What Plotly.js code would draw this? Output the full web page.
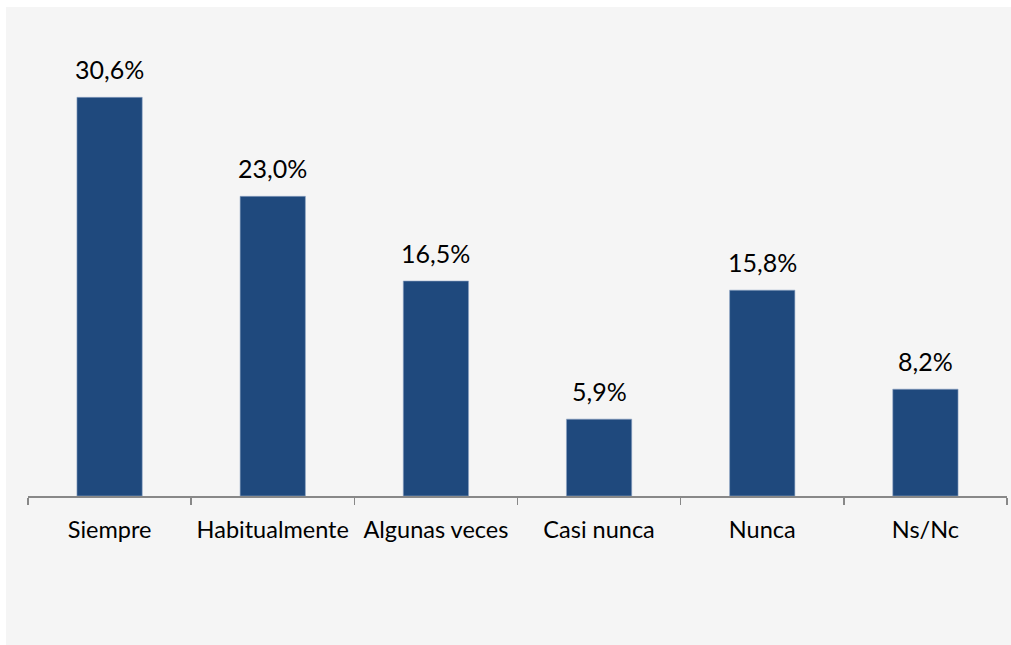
<!DOCTYPE html>
<html>
<head>
<meta charset="utf-8">
<script src="https://cdn.plot.ly/plotly-3.0.1.min.js"></script>
<style>
html,body{margin:0;padding:0;background:#ffffff;width:1011px;height:645px;overflow:hidden;}
#chart{position:absolute;left:6px;top:7px;width:1005px;height:638px;}
</style>
</head>
<body>
<div id="chart"></div>
<script>
const categories = ["Siempre", "Habitualmente", "Algunas veces", "Casi nunca", "Nunca", "Ns/Nc"];
const values = [30.6, 23.0, 16.5, 5.9, 15.8, 8.2];
const labels = ["30,6%", "23,0%", "16,5%", "5,9%", "15,8%", "8,2%"];

const trace = {
  type: "bar",
  x: categories,
  y: values,
  marker: {color: "#1f497d", line: {width: 0.6, color: "#8ea5c4"}},
  width: 0.4,
  hoverinfo: "none"
};

const annotations = categories.map((c, i) => ({
  x: c, y: values[i], xref: "x", yref: "y",
  text: labels[i], showarrow: false,
  yanchor: "bottom", yshift: 11,
  font: {family: "Lato, 'Open Sans', sans-serif", size: 25, color: "#000000"}
}));

const layout = {
  width: 1005, height: 638,
  paper_bgcolor: "#f5f5f5",
  plot_bgcolor: "#f5f5f5",
  margin: {l: 22, r: 4, t: 33, b: 149},
  showlegend: false,
  bargap: 0.6,
  xaxis: {
    type: "category",
    showline: true, linecolor: "#888888", linewidth: 1.5,
    ticks: "outside", tickson: "boundaries", ticklen: 7, tickcolor: "#888888", tickwidth: 1.5,
    ticklabelstandoff: 12, tickangle: 0,
    tickfont: {family: "Lato, 'Open Sans', sans-serif", size: 23.5, color: "#000000"},
    showgrid: false, zeroline: false, fixedrange: true
  },
  yaxis: {
    range: [0, 35], visible: false, showgrid: false, zeroline: false, fixedrange: true
  },
  annotations: annotations
};

Plotly.newPlot("chart", [trace], layout, {staticPlot: true, displayModeBar: false});
</script>
</body>
</html>
